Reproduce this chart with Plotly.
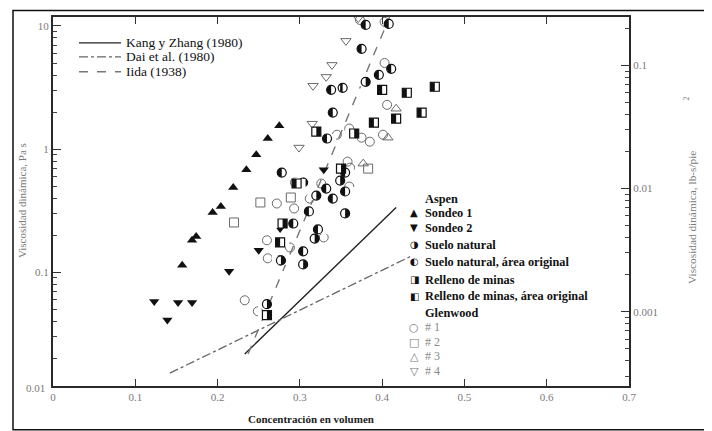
import plotly.graph_objects as go
import math

# ---------------- data (concentration in volume, viscosity Pa s) ----------------
sondeo1_conc = [0.157, 0.169, 0.174, 0.194, 0.204, 0.219, 0.235, 0.247, 0.261, 0.275]
sondeo1_visc = [0.114, 0.182, 0.195, 0.306, 0.342, 0.488, 0.68, 0.90, 1.22, 1.55]

sondeo2_conc = [0.123, 0.152, 0.169, 0.139, 0.214, 0.250, 0.276, 0.329, 0.300]
sondeo2_visc = [0.058, 0.057, 0.057, 0.041, 0.102, 0.151, 0.227, 0.68, 0.546]

suelo_conc = [0.380, 0.408, 0.375, 0.352, 0.338, 0.396, 0.411, 0.340, 0.333, 0.278,
              0.292, 0.276, 0.304, 0.355, 0.340, 0.355, 0.311, 0.322, 0.332]
suelo_visc = [10.2, 10.4, 6.52, 3.15, 3.03, 4.01, 4.49, 1.98, 1.22, 0.646,
              0.249, 0.125, 0.148, 0.453, 0.397, 0.646, 0.312, 0.223, 0.479]

suelo_orig_conc = [0.380, 0.277, 0.260, 0.304, 0.349, 0.355, 0.318, 0.320, 0.304]
suelo_orig_visc = [3.52, 0.125, 0.0551, 0.116, 0.556, 0.301, 0.188, 0.420, 0.536]

relleno_conc = [0.400, 0.430, 0.464, 0.448, 0.417, 0.390, 0.276, 0.296]
relleno_visc = [3.03, 2.87, 3.21, 1.98, 1.77, 1.64, 0.175, 0.526]

relleno_orig_conc = [0.366, 0.320, 0.260, 0.279, 0.350]
relleno_orig_visc = [1.34, 1.39, 0.0449, 0.249, 0.695]

glen1_conc = [0.373, 0.403, 0.403, 0.406, 0.360, 0.375, 0.385, 0.401, 0.345, 0.358, 0.361, 0.360,
              0.326, 0.294, 0.272, 0.293, 0.312, 0.260, 0.261, 0.288, 0.329, 0.233, 0.249]
glen1_visc = [11.2, 10.8, 5.01, 2.29, 1.47, 1.24, 1.15, 1.31, 1.31, 0.792, 0.708, 0.497,
              0.526, 0.536, 0.362, 0.330, 0.397, 0.182, 0.130, 0.159, 0.192, 0.0593, 0.0483]

glen2_conc = [0.252, 0.220, 0.383, 0.289]
glen2_visc = [0.369, 0.254, 0.695, 0.405]

glen3_conc = [0.417, 0.407, 0.377]
glen3_visc = [2.13, 1.24, 0.763]

glen4_conc = [0.356, 0.339, 0.332, 0.316, 0.315, 0.299, 0.371]
glen4_visc = [7.57, 4.83, 3.86, 3.27, 1.61, 1.03, 11.6]

kang_conc = [0.233, 0.417]
kang_visc = [0.0217, 0.336]
dai_conc = [0.142, 0.434]
dai_visc = [0.0152, 0.134]
iida_conc = [0.237, 0.409]
iida_visc = [0.0217, 11.8]

line_names = ["Kang y Zhang (1980)", "Dai et al. (1980)", "Iida (1938)"]
aspen_labels = ["Sondeo 1", "Sondeo 2", "Suelo natural", "Suelo natural, área original",
                "Relleno de minas", "Relleno de minas, área original"]
glen_labels = ["# 1", "# 2", "# 3", "# 4"]
x_ticks = [0, 0.1, 0.2, 0.3, 0.4, 0.5, 0.6, 0.7]
x_tick_text = ["0", "0.1", "0.2", "0.3", "0.4", "0.5", "0.6", "0.7"]

PA_S_TO_LB_S_FT2 = 0.020885

# ---------------- layout geometry ----------------
# the page body adds an 8 px margin, so the figure is 8 px smaller than the window
W, H = 704, 423
ML, MR, MT, MB = 45, 83, 7, 45
PW, PH = W - ML - MR, H - MT - MB
OFF = 8  # body margin


def px(x):  # window pixel -> paper x
    return (x - OFF - ML) / PW


def py(y):  # window pixel -> paper y
    return (H - MB - (y - OFF)) / PH


y_log_range = [-1.923, 1.073]
y2_log_range = [v + math.log10(PA_S_TO_LB_S_FT2) for v in y_log_range]

SERIF = "Liberation Serif"
GLYPH = "DejaVu Sans"
TICK_GREY = "#7a7a7a"
INK = "#111"

fig = go.Figure()

# model lines
fig.add_trace(go.Scatter(x=kang_conc, y=kang_visc, mode="lines", name=line_names[0],
                         line=dict(color="#222", width=1.4)))
fig.add_trace(go.Scatter(x=dai_conc, y=dai_visc, mode="lines", name=line_names[1],
                         line=dict(color="#666", width=1.3, dash="dashdot")))
fig.add_trace(go.Scatter(x=iida_conc, y=iida_visc, mode="lines", name=line_names[2],
                         line=dict(color="#777", width=1.4, dash="dash")))

# Glenwood (open grey markers)
open_line = dict(color="#6a6a6a", width=1)
fig.add_trace(go.Scatter(x=glen1_conc, y=glen1_visc, mode="markers", name="Glenwood # 1",
                         marker=dict(symbol="circle-open", size=9, line=open_line, color="#6a6a6a")))
fig.add_trace(go.Scatter(x=glen2_conc, y=glen2_visc, mode="markers", name="Glenwood # 2",
                         marker=dict(symbol="square-open", size=9, line=open_line, color="#6a6a6a")))
fig.add_trace(go.Scatter(x=glen3_conc, y=glen3_visc, mode="markers", name="Glenwood # 3",
                         marker=dict(symbol="triangle-up-open", size=9, line=open_line, color="#6a6a6a")))
fig.add_trace(go.Scatter(x=glen4_conc, y=glen4_visc, mode="markers", name="Glenwood # 4",
                         marker=dict(symbol="triangle-down-open", size=9, line=open_line, color="#6a6a6a")))

# Aspen filled triangles
fig.add_trace(go.Scatter(x=sondeo1_conc, y=sondeo1_visc, mode="markers", name="Sondeo 1",
                         marker=dict(symbol="triangle-up", size=9, color=INK)))
fig.add_trace(go.Scatter(x=sondeo2_conc, y=sondeo2_visc, mode="markers", name="Sondeo 2",
                         marker=dict(symbol="triangle-down", size=9, color=INK)))


def half_filled(xs, ys, shape, black_side, name):
    """Half black / half white marker built from three marker layers."""
    size = 9
    cover_angle = -90 if black_side == "right" else 90
    fill = go.Scatter(x=xs, y=ys, mode="markers", name=name,
                      marker=dict(symbol=shape, size=size, color=INK, line=dict(width=0)))
    cover = go.Scatter(x=xs, y=ys, mode="markers", name=name, hoverinfo="skip",
                       marker=dict(symbol="square", size=size, color="white", line=dict(width=0),
                                   angle=cover_angle, standoff=size / 2))
    outline = go.Scatter(x=xs, y=ys, mode="markers", name=name, hoverinfo="skip",
                         marker=dict(symbol=shape + "-open", size=size, color=INK,
                                     line=dict(color=INK, width=1.2)))
    return [fill, cover, outline]


for tr in (half_filled(suelo_conc, suelo_visc, "circle", "right", aspen_labels[2])
           + half_filled(suelo_orig_conc, suelo_orig_visc, "circle", "left", aspen_labels[3])
           + half_filled(relleno_conc, relleno_visc, "square", "right", aspen_labels[4])
           + half_filled(relleno_orig_conc, relleno_orig_visc, "square", "left", aspen_labels[5])):
    fig.add_trace(tr)

# invisible trace to activate the right axis (lb-s/ft2)
fig.add_trace(go.Scatter(x=[0.5], y=[0.01], yaxis="y2", mode="markers",
                         marker=dict(opacity=0), hoverinfo="skip"))

tickfont = dict(family=SERIF, size=11, color=TICK_GREY)
AXIS_LINE = "#2a2a2a"

fig.update_layout(
    width=W, height=H,
    margin=dict(l=ML, r=MR, t=MT, b=MB),
    paper_bgcolor="white", plot_bgcolor="white",
    showlegend=False,
    xaxis=dict(range=[0, 0.7], tickvals=x_ticks, ticktext=x_tick_text, ticks="inside",
               ticklen=7, tickwidth=1.2, tickcolor="#333", showgrid=False, zeroline=False,
               showline=True, linecolor=AXIS_LINE, linewidth=2, mirror="ticks", tickfont=tickfont),
    yaxis=dict(type="log", range=y_log_range, dtick=1, ticks="inside", ticklen=8,
               tickwidth=1.2, tickcolor="#333", showgrid=False, zeroline=False, showline=True,
               linecolor=AXIS_LINE, linewidth=2, mirror=False, tickfont=tickfont,
               minor=dict(ticks="inside", ticklen=4, tickcolor="#444", showgrid=False)),
    yaxis2=dict(type="log", range=y2_log_range, dtick=1, overlaying="y", side="right",
                ticks="inside", ticklen=8, tickwidth=1.2, tickcolor="#333", showgrid=False,
                zeroline=False, showline=True, linecolor=AXIS_LINE, linewidth=2, tickfont=tickfont,
                minor=dict(ticks="inside", ticklen=4, tickcolor="#444", showgrid=False)),
)


def ann(x, y, text, font, xanchor="center", yanchor="middle", angle=0):
    return dict(x=px(x), y=py(y), xref="paper", yref="paper", showarrow=False,
                xanchor=xanchor, yanchor=yanchor, text=text, textangle=angle, font=font)


annotations = []
# axis titles
annotations.append(ann(311, 419, "<b>Concentración en volumen</b>",
                       dict(family=SERIF, size=11, color="#222")))
annotations.append(ann(22, 200, "Viscosidad dinámica, Pa s",
                       dict(family=SERIF, size=11, color=TICK_GREY), angle=-90))
annotations.append(ann(692, 217, "Viscosidad dinámica, lb-s/pie",
                       dict(family=SERIF, size=11.3, color=TICK_GREY), angle=-90))
annotations.append(ann(687, 97, "2", dict(family=SERIF, size=8, color=TICK_GREY), angle=-90))
# bottom-left 0.01 label
annotations.append(ann(47, 388, "0.01", tickfont, xanchor="right"))

shapes = []
# top-left legend for the model lines
line_rows = [41, 55, 70]
line_styles = [dict(color="#222", width=1.4, dash="solid"),
               dict(color="#666", width=1.3, dash="dashdot"),
               dict(color="#777", width=1.4, dash="dash")]
for name, r, st in zip(line_names, line_rows, line_styles):
    shapes.append(dict(type="line", xref="paper", yref="paper", x0=px(79), x1=px(121),
                       y0=py(r), y1=py(r), line=st))
    annotations.append(ann(124, r, name, dict(family=SERIF, size=13.5, color=INK), xanchor="left"))

# right legend (Aspen / Glenwood)
legend_font = dict(family=SERIF, size=12.3, color=INK)
annotations.append(ann(423, 198, "<b>Aspen</b>", legend_font, xanchor="left"))
aspen_glyphs = ["▲", "▼", "◑", "◐", "◨", "◧"]
aspen_rows = [212, 227, 244, 261, 279, 296]
for g, lab, r in zip(aspen_glyphs, aspen_labels, aspen_rows):
    annotations.append(ann(414, r, g, dict(family=GLYPH, size=10, color=INK)))
    annotations.append(ann(423, r, "<b>" + lab + "</b>", legend_font, xanchor="left"))
annotations.append(ann(423, 313, "<b>Glenwood</b>", legend_font, xanchor="left"))
glen_glyphs = ["○", "□", "△", "▽"]
glen_rows = [327, 342, 356, 371]
for g, lab, r in zip(glen_glyphs, glen_labels, glen_rows):
    annotations.append(ann(414, r, g, dict(family=GLYPH, size=11, color="#777")))
    annotations.append(ann(423, r, lab, dict(family=SERIF, size=12, color="#888"), xanchor="left"))

# outer frame of the figure
shapes.append(dict(type="rect", xref="paper", yref="paper", x0=px(13), x1=px(707),
                   y0=py(430), y1=py(8.5), line=dict(color=INK, width=1.5),
                   fillcolor="rgba(0,0,0,0)", layer="above"))

fig.update_layout(annotations=annotations, shapes=shapes)

fig.write_html("out.html")
